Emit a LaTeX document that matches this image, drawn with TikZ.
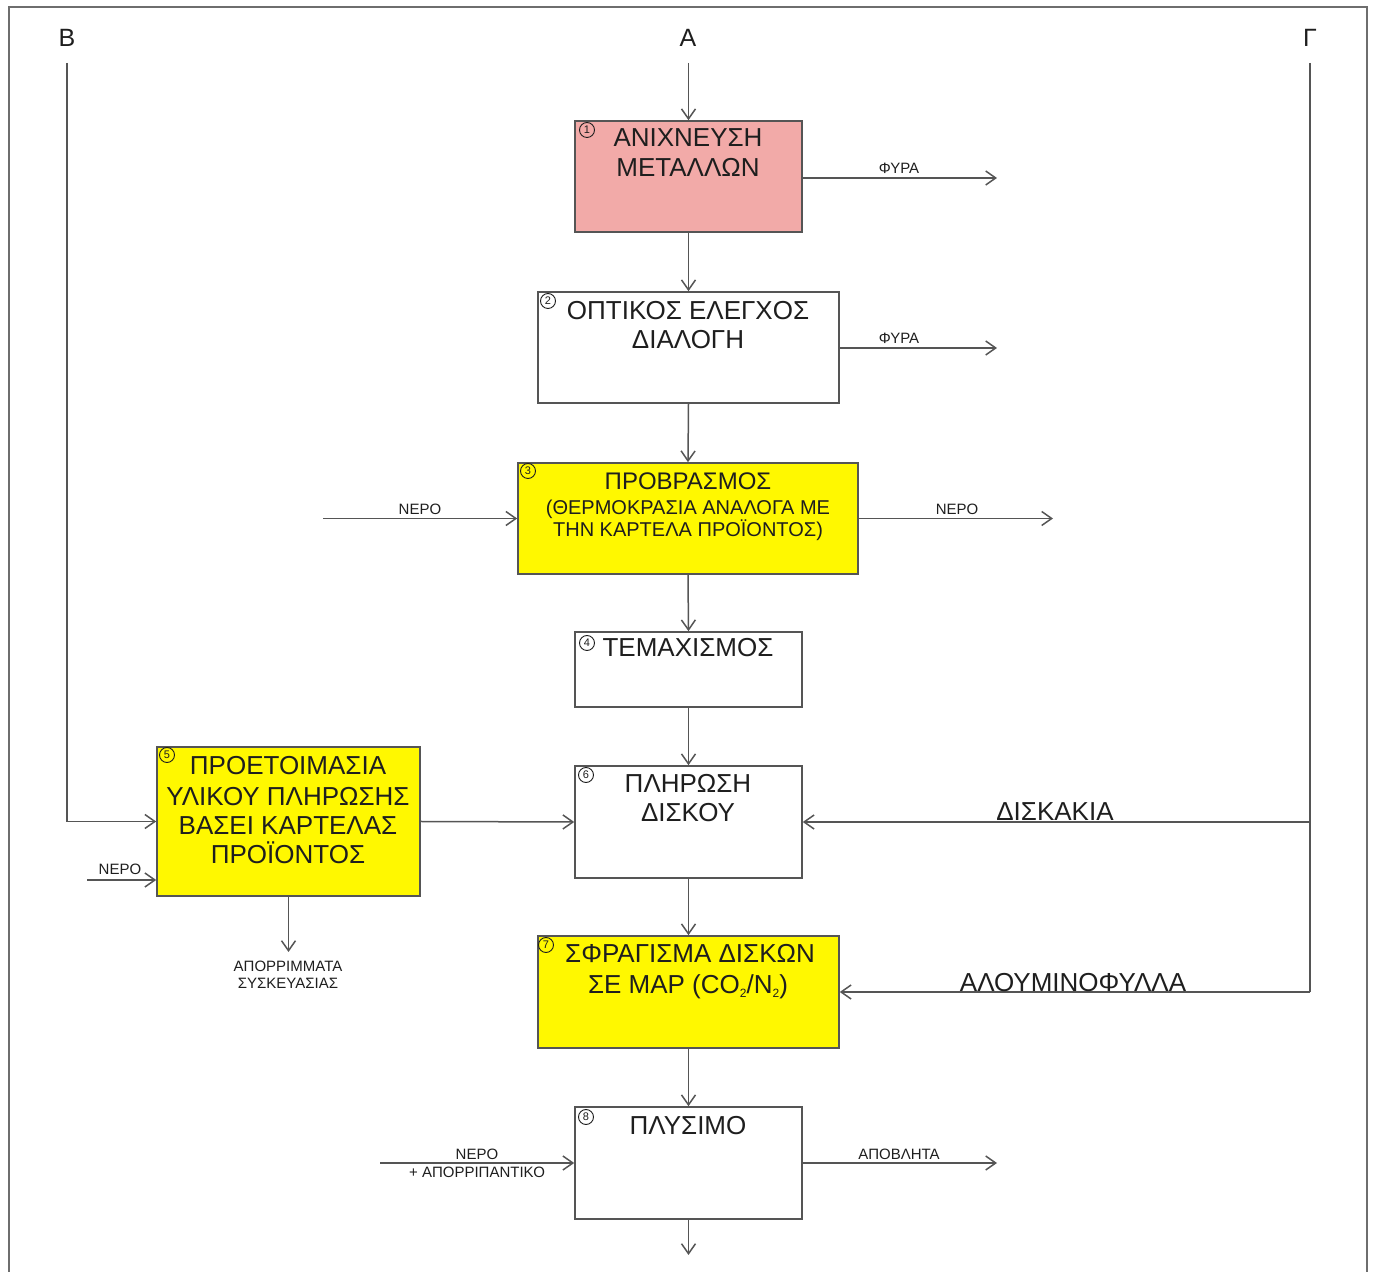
\documentclass[tikz,border=0pt]{standalone}
\usepackage{fontspec}
\setmainfont{Liberation Sans}
\usetikzlibrary{arrows.meta}
\definecolor{linec}{RGB}{85,85,85}
\definecolor{textc}{RGB}{30,30,30}
\definecolor{pinkf}{RGB}{242,170,168}
\definecolor{yelf}{RGB}{255,248,0}
\definecolor{framec}{RGB}{110,110,110}
\newcommand{\subtwo}{\raisebox{-0.25ex}{\fontsize{6}{6}\selectfont 2}}
\begin{document}
\begin{tikzpicture}[x=0.5pt,y=-0.5pt,
  pbox/.style 2 args={rectangle, draw=linec, line width=0.8pt, minimum width=#1*0.5pt, minimum height=#2*0.5pt, inner sep=0pt},
  big/.style={font=\fontsize{13}{15}\selectfont, text=textc, inner sep=0pt, anchor=base},
  small/.style={font=\fontsize{7.5}{8.5}\selectfont, text=textc, inner sep=0pt, anchor=base},
  num/.style={circle, draw=textc, line width=0.45pt, inner sep=0pt, minimum size=7.5pt, font=\fontsize{5.5}{5.5}\selectfont, text=textc},
  arr/.style={draw=linec, line width=0.75pt, -{Straight Barb[length=5pt,width=7pt]}},
  ln/.style={draw=linec, line width=0.75pt}]
\useasboundingbox (0,0) rectangle (1373,1272);
% frame
\draw[framec, line width=1.2pt] (9,1272) -- (9,7) -- (1367,7) -- (1367,1272);

% boxes
\node[pbox={227}{111}, fill=pinkf] (b1) at (688.5,176.5) {};
\node[pbox={301}{111}, fill=white] (b2) at (688.5,347.5) {};
\node[pbox={340}{111}, fill=yelf] (b3) at (688,518.5) {};
\node[pbox={227}{75}, fill=white] (b4) at (688.5,669.5) {};
\node[pbox={263}{149}, fill=yelf] (b5) at (288.5,821.5) {};
\node[pbox={227}{112}, fill=white] (b6) at (688.5,822) {};
\node[pbox={301}{112}, fill=yelf] (b7) at (688.5,992) {};
\node[pbox={227}{112}, fill=white] (b8) at (688.5,1163) {};

% box texts
\node[big] (t1a) at (688,147) {ΑΝΙΧΝΕΥΣΗ};
\node[big] (t1b) at (688,177) {ΜΕΤΑΛΛΩΝ};
\node[big] (t2a) at (688,320) {ΟΠΤΙΚΟΣ ΕΛΕΓΧΟΣ};
\node[big] (t2b) at (688,349) {ΔΙΑΛΟΓΗ};
\node[big, font=\fontsize{12}{14}\selectfont] (t3a) at (688,490) {ΠΡΟΒΡΑΣΜΟΣ};
\node[big, font=\fontsize{10}{12}\selectfont] (t3b) at (688,515) {(ΘΕΡΜΟΚΡΑΣΙΑ ΑΝΑΛΟΓΑ ΜΕ};
\node[big, font=\fontsize{10}{12}\selectfont] (t3c) at (688,537) {ΤΗΝ ΚΑΡΤΕΛΑ ΠΡΟΪΟΝΤΟΣ)};
\node[big] (t4) at (688,657) {ΤΕΜΑΧΙΣΜΟΣ};
\node[big] (t5a) at (288,775) {ΠΡΟΕΤΟΙΜΑΣΙΑ};
\node[big] (t5b) at (288,806) {ΥΛΙΚΟΥ ΠΛΗΡΩΣΗΣ};
\node[big] (t5c) at (288,835) {ΒΑΣΕΙ ΚΑΡΤΕΛΑΣ};
\node[big] (t5d) at (288,864) {ΠΡΟΪΟΝΤΟΣ};
\node[big] (t6a) at (688,793) {ΠΛΗΡΩΣΗ};
\node[big] (t6b) at (688,822) {ΔΙΣΚΟΥ};
\node[big] (t7a) at (690,963) {ΣΦΡΑΓΙΣΜΑ ΔΙΣΚΩΝ};
\node[big] (t7b) at (688,994) {ΣΕ MAP (CO\subtwo/N\subtwo)};
\node[big] (t8) at (688,1135) {ΠΛΥΣΙΜΟ};

% numbers
\node[num] (n1) at (587,130) {1};
\node[num] (n2) at (548,301) {2};
\node[num] (n3) at (528,471) {3};
\node[num] (n4) at (587,643) {4};
\node[num] (n5) at (167,755) {5};
\node[num] (n6) at (586,775) {6};
\node[num] (n7) at (546,945) {7};
\node[num] (n8) at (586,1117) {8};

% top letters
\node[big, font=\fontsize{12.5}{14}\selectfont] (lB) at (67,47) {Β};
\node[big, font=\fontsize{12.5}{14}\selectfont] (lA) at (688,47) {Α};
\node[big, font=\fontsize{12.5}{14}\selectfont] (lG) at (1310,47) {Γ};
\coordinate (cA) at (688.5,63);
\coordinate (cB) at (67,63);
\coordinate (cG) at (1310,63);
\coordinate (cGb) at (1310,992);

% main flow
\draw[arr] (cA) -- (b1.north);
\draw[arr] (b1.south) -- (b2.north);
\draw[arr] (b2.south) -- (b3.north);
\draw[arr] (b3.south) -- (b4.north);
\draw[arr] (b4.south) -- (b6.north);
\draw[arr] (b6.south) -- (b7.north);
\draw[arr] (b7.south) -- (b8.north);
\coordinate (cEnd) at (688.5,1255);
\draw[arr] (b8.south) -- (cEnd);

% B branch
\draw[arr] (cB) |- (b5.west);
\draw[arr] (b5.east) -- (b6.west);
% Gamma branch
\draw[ln] (cG) -- (cGb);
\draw[arr] (cGb |- b6.east) -- (b6.east);
\draw[arr] (cGb) -- (b7.east);
\node[big] (lD) at (1055,821) {ΔΙΣΚΑΚΙΑ};
\node[big] (lAl) at (1073,992) {ΑΛΟΥΜΙΝΟΦΥΛΛΑ};

% side outputs
\coordinate (o1) at (997,178);
\draw[arr] (b1.east |- o1) -- (o1);
\node[small] (l1) at (899,174) {ΦΥΡΑ};
\coordinate (o2) at (997,348);
\draw[arr] (b2.east |- o2) -- (o2);
\node[small] (l2) at (899,344) {ΦΥΡΑ};
\coordinate (i3) at (323,518.5);
\draw[arr] (i3) -- (b3.west);
\node[small] (l3a) at (420,515) {ΝΕΡΟ};
\coordinate (o3) at (1053,518.5);
\draw[arr] (b3.east) -- (o3);
\node[small] (l3b) at (957,515) {ΝΕΡΟ};
\coordinate (i5) at (87,880);
\draw[arr] (i5) -- (i5 -| b5.west);
\node[small] (l5) at (120,875) {ΝΕΡΟ};
\coordinate (o5) at (288.5,952);
\draw[arr] (b5.south -| o5) -- (o5);
\node[small] (l5a) at (288,972) {ΑΠΟΡΡΙΜΜΑΤΑ};
\node[small] (l5b) at (288,989) {ΣΥΣΚΕΥΑΣΙΑΣ};
\coordinate (i8) at (380,1163);
\draw[arr] (i8) -- (b8.west);
\node[small] (l8a) at (477,1160) {ΝΕΡΟ};
\node[small] (l8b) at (477,1178) {+ ΑΠΟΡΡΙΠΑΝΤΙΚΟ};
\coordinate (o8) at (997,1163);
\draw[arr] (b8.east) -- (o8);
\node[small] (l8c) at (899,1160) {ΑΠΟΒΛΗΤΑ};
\end{tikzpicture}
\end{document}
